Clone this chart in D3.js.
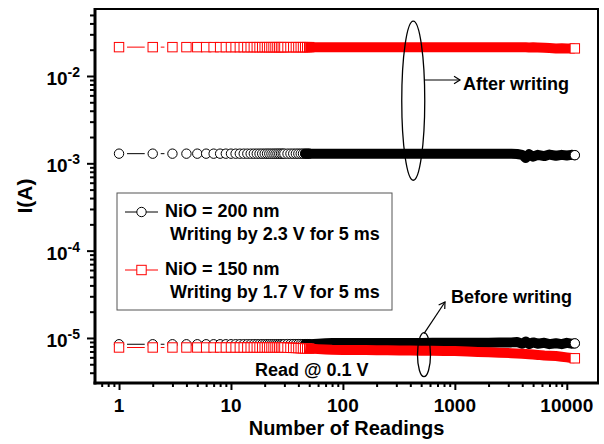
<!DOCTYPE html>
<html>
<head>
<meta charset="utf-8">
<script src="https://cdn.jsdelivr.net/npm/d3@7/dist/d3.min.js"></script>
<style>
body { margin: 0; background: #fff; }
text { font-family: "Liberation Sans", Arial, sans-serif; font-weight: bold; fill: #000; }
</style>
</head>
<body>
<div id="chart"></div>
<script>
// reading numbers (shared by all four series)
var readings = [1,2,3,4,5,6,7,8,9,10,11,12,13,14,15,16,17,18,19,20,21,22,23,24,25,26,27,28,29,30,
    32,34,36,38,40,42,44,46,48,50,
    60,70,80,100,130,160,200,250,320,400,
    500,630,800,1000,1300,1600,2000,2500,3200,3600,
    4000,4300,4600,5000,5500,6300,7000,8000,9000,10000,
    11000,11800];

// after writing, NiO = 150 nm (red squares)
var afterRed = [0.0214,0.0214,0.0214,0.0214,0.0214,0.0214,0.0214,0.0214,0.0214,0.0214,
    0.0214,0.0214,0.0214,0.0214,0.0214,0.0214,0.0214,0.0214,0.0214,0.0214,
    0.0214,0.0214,0.0214,0.0214,0.0214,0.0214,0.0214,0.0214,0.0214,0.0214,
    0.0214,0.0214,0.0214,0.0214,0.0214,0.0214,0.0214,0.0214,0.0214,0.0214,
    0.0214,0.0214,0.0214,0.0214,0.0214,0.0214,0.0214,0.0214,0.0214,0.0214,
    0.0214,0.0214,0.0214,0.0213,0.0214,0.0213,0.0213,0.0214,0.0213,0.0213,
    0.0213,0.0213,0.0212,0.0213,0.0212,0.0211,0.0209,0.0207,0.0208,0.0206,
    0.0207,0.0207];

// after writing, NiO = 200 nm (black circles)
var afterBlack = [1.29e-3,1.29e-3,1.29e-3,1.29e-3,1.29e-3,1.29e-3,1.29e-3,1.29e-3,1.29e-3,1.29e-3,
    1.29e-3,1.29e-3,1.29e-3,1.29e-3,1.29e-3,1.29e-3,1.29e-3,1.29e-3,1.29e-3,1.29e-3,
    1.29e-3,1.29e-3,1.29e-3,1.29e-3,1.29e-3,1.29e-3,1.29e-3,1.29e-3,1.29e-3,1.29e-3,
    1.29e-3,1.29e-3,1.29e-3,1.29e-3,1.29e-3,1.29e-3,1.29e-3,1.29e-3,1.29e-3,1.29e-3,
    1.29e-3,1.29e-3,1.29e-3,1.29e-3,1.29e-3,1.29e-3,1.29e-3,1.29e-3,1.29e-3,1.29e-3,
    1.29e-3,1.29e-3,1.29e-3,1.29e-3,1.29e-3,1.29e-3,1.29e-3,1.29e-3,1.29e-3,1.28e-3,
    1.25e-3,1.15e-3,1.27e-3,1.19e-3,1.25e-3,1.21e-3,1.26e-3,1.22e-3,1.25e-3,1.23e-3,
    1.25e-3,1.24e-3];

// before writing, NiO = 200 nm (black circles)
var beforeBlack = [8.47e-6,8.47e-6,8.47e-6,8.47e-6,8.47e-6,8.47e-6,8.47e-6,8.47e-6,8.47e-6,8.47e-6,
    8.47e-6,8.47e-6,8.47e-6,8.47e-6,8.47e-6,8.47e-6,8.47e-6,8.47e-6,8.47e-6,8.47e-6,
    8.47e-6,8.47e-6,8.47e-6,8.47e-6,8.47e-6,8.47e-6,8.47e-6,8.47e-6,8.47e-6,8.47e-6,
    8.5e-6,8.5e-6,8.5e-6,8.5e-6,8.5e-6,8.5e-6,8.5e-6,8.5e-6,8.5e-6,8.5e-6,
    8.6e-6,8.7e-6,8.75e-6,8.77e-6,8.77e-6,8.78e-6,8.78e-6,8.78e-6,8.78e-6,8.78e-6,
    8.78e-6,8.8e-6,8.8e-6,8.8e-6,8.8e-6,8.82e-6,8.82e-6,8.85e-6,8.9e-6,9.0e-6,
    8.6e-6,9.1e-6,8.5e-6,8.9e-6,8.6e-6,8.8e-6,8.5e-6,8.7e-6,8.5e-6,8.8e-6,
    8.6e-6,8.67e-6];

// before writing, NiO = 150 nm (red squares)
var beforeRed = [7.78e-6,7.78e-6,7.78e-6,7.78e-6,7.78e-6,7.78e-6,7.78e-6,7.78e-6,7.78e-6,7.78e-6,
    7.78e-6,7.78e-6,7.78e-6,7.78e-6,7.78e-6,7.78e-6,7.78e-6,7.78e-6,7.78e-6,7.78e-6,
    7.78e-6,7.78e-6,7.78e-6,7.78e-6,7.78e-6,7.78e-6,7.78e-6,7.78e-6,7.78e-6,7.78e-6,
    7.75e-6,7.72e-6,7.7e-6,7.68e-6,7.66e-6,7.64e-6,7.62e-6,7.6e-6,7.58e-6,7.56e-6,
    7.45e-6,7.38e-6,7.33e-6,7.3e-6,7.28e-6,7.27e-6,7.25e-6,7.22e-6,7.2e-6,7.18e-6,
    7.15e-6,7.13e-6,7.1e-6,7.08e-6,7.0e-6,6.92e-6,6.85e-6,6.78e-6,6.7e-6,6.65e-6,
    6.6e-6,6.55e-6,6.5e-6,6.45e-6,6.4e-6,6.3e-6,6.25e-6,6.2e-6,6.1e-6,6.0e-6,
    5.9e-6,5.85e-6];

var xTickValues = [1, 10, 100, 1000, 10000];
var xTickLabels = ["1", "10", "100", "1000", "10000"];
var yTickExps = [-5, -4, -3, -2];
var legendLines = [
    ["NiO = 200 nm", "Writing by 2.3 V for 5 ms"],
    ["NiO = 150 nm", "Writing by 1.7 V for 5 ms"]
];

const W = 604, H = 444;
const margin = {top: 9, right: 6, bottom: 61, left: 95};
const markerR = 4.7, squareS = 9.4, bandW = 10, denseFrom = 46, markerUntil = 50;

var svg = d3.select('#chart').append('svg')
    .attr('width', W).attr('height', H);

var x = d3.scaleLog().domain([0.61, 19000]).range([margin.left, W - margin.right]);
var y = d3.scaleLog().domain([3.05e-6, 0.0585]).range([H - margin.bottom, margin.top]);

var series = [
    {values: afterBlack, color: '#000', shape: 'circle'},
    {values: afterRed, color: '#ff0000', shape: 'square'},
    {values: beforeBlack, color: '#000', shape: 'circle'},
    {values: beforeRed, color: '#ff0000', shape: 'square'}
];

function drawMarker(g, shape, color, cx, cy){
    if(shape == 'circle'){
        g.append('circle').attr('cx', cx).attr('cy', cy).attr('r', markerR)
            .attr('fill', '#fff').attr('stroke', color).attr('stroke-width', 1);
    } else {
        g.append('rect').attr('x', cx - squareS/2).attr('y', cy - squareS/2)
            .attr('width', squareS).attr('height', squareS)
            .attr('fill', '#fff').attr('stroke', color).attr('stroke-width', 1);
    }
}

var plot = svg.append('g');

series.forEach(function(s){
    var g = plot.append('g');
    var pts = readings.map((r, i) => [x(r), y(s.values[i]), r]);
    var gap = 5 + 3;

    // connecting line, broken round each marker
    for(var i = 0; i < pts.length - 1; i++){
        if(pts[i+1][2] > markerUntil) break;
        var dx = pts[i+1][0] - pts[i][0], dy = pts[i+1][1] - pts[i][1];
        var len = Math.sqrt(dx*dx + dy*dy);
        if(len - 2*gap < 0.8) continue;
        var ux = dx/len, uy = dy/len;
        g.append('line')
            .attr('x1', pts[i][0] + ux*gap).attr('y1', pts[i][1] + uy*gap)
            .attr('x2', pts[i+1][0] - ux*gap).attr('y2', pts[i+1][1] - uy*gap)
            .attr('stroke', s.color).attr('stroke-width', 1);
    }

    pts.forEach(function(p){
        if(p[2] <= markerUntil) drawMarker(g, s.shape, s.color, p[0], p[1]);
    });

    // where the markers pile up they form a solid band
    g.append('path')
        .datum(pts.filter(p => p[2] >= denseFrom))
        .attr('d', d3.line().x(p => p[0]).y(p => p[1]))
        .attr('fill', 'none')
        .attr('stroke', s.color)
        .attr('stroke-width', bandW)
        .attr('stroke-linejoin', 'round')
        .attr('stroke-linecap', s.shape == 'circle' ? 'round' : 'butt');

    var last = pts[pts.length - 1];
    drawMarker(g, s.shape, s.color, last[0], last[1]);
});

// axes
var x0 = margin.left, x1 = W - margin.right, y0 = H - margin.bottom, y1 = margin.top;

var xMinor = [], yMinor = [];
for(var d = -1; d <= 4; d++){
    for(var m = 2; m <= 9; m++){
        var v = m*Math.pow(10, d);
        if(v >= x.domain()[0] && v <= x.domain()[1]) xMinor.push(v);
    }
}
for(var d = -6; d <= -2; d++){
    for(var m = 2; m <= 9; m++){
        var v = m*Math.pow(10, d);
        if(v >= y.domain()[0] && v <= y.domain()[1]) yMinor.push(v);
    }
}

svg.append('g').attr('transform', 'translate(0,' + y0 + ')')
    .call(d3.axisBottom(x).tickValues(xTickValues).tickSize(7).tickFormat(''))
    .call(g => g.select('.domain').remove())
    .selectAll('line').attr('stroke-width', 2);
svg.append('g').attr('transform', 'translate(0,' + y0 + ')')
    .call(d3.axisBottom(x).tickValues(xMinor).tickSize(4).tickFormat(''))
    .call(g => g.select('.domain').remove())
    .selectAll('line').attr('stroke-width', 2);

svg.append('g').attr('transform', 'translate(' + x0 + ',0)')
    .call(d3.axisLeft(y).tickValues(yTickExps.map(e => Math.pow(10, e))).tickSize(8).tickFormat(''))
    .call(g => g.select('.domain').remove())
    .selectAll('line').attr('stroke-width', 2);
svg.append('g').attr('transform', 'translate(' + x0 + ',0)')
    .call(d3.axisLeft(y).tickValues(yMinor).tickSize(5).tickFormat(''))
    .call(g => g.select('.domain').remove())
    .selectAll('line').attr('stroke-width', 2);

// frame
svg.append('rect').attr('x', x0).attr('y', y1).attr('width', x1 - x0).attr('height', y0 - y1)
    .attr('fill', 'none').attr('stroke', '#000').attr('stroke-width', 2);
svg.append('line').attr('x1', x0).attr('x2', x0).attr('y1', y1 - 1).attr('y2', y0 + 1.5)
    .attr('stroke', '#000').attr('stroke-width', 3);
svg.append('line').attr('x1', x0 - 1.5).attr('x2', x1 + 1).attr('y1', y0).attr('y2', y0)
    .attr('stroke', '#000').attr('stroke-width', 3);

// tick labels
xTickValues.forEach(function(v, i){
    svg.append('text').attr('x', x(v)).attr('y', 412)
        .attr('text-anchor', 'middle').attr('font-size', 19)
        .text(xTickLabels[i]);
});
yTickExps.forEach(function(e){
    var t = svg.append('text').attr('x', 80).attr('y', y(Math.pow(10, e)) + 9)
        .attr('text-anchor', 'end').attr('font-size', 19);
    t.append('tspan').text('10');
    t.append('tspan').attr('font-size', 14).attr('dy', -8).text(String(e));
});

svg.append('text').attr('x', (x0 + x1)/2).attr('y', 435)
    .attr('text-anchor', 'middle').attr('font-size', 20)
    .text('Number of Readings');
svg.append('text').attr('transform', 'translate(32,' + ((y0 + y1)/2) + ') rotate(-90)')
    .attr('text-anchor', 'middle').attr('font-size', 21)
    .text('I(A)');

// legend
var lg = svg.append('g');
lg.append('rect').attr('x', 117).attr('y', 193).attr('width', 275).attr('height', 117)
    .attr('fill', '#fff').attr('stroke', '#555').attr('stroke-width', 1);
[series[0], series[1]].forEach(function(s, i){
    var ly = 212 + i*58;
    lg.append('line').attr('x1', 125).attr('x2', 158).attr('y1', ly).attr('y2', ly)
        .attr('stroke', s.color).attr('stroke-width', 1);
    drawMarker(lg, s.shape, s.color, 141.5, ly);
    lg.append('text').attr('x', 165).attr('y', ly + 5).attr('font-size', 18).text(legendLines[i][0]);
    lg.append('text').attr('x', 170).attr('y', ly + 28).attr('font-size', 18).text(legendLines[i][1]);
});

// annotations
function arrow(xa, ya, xb, yb){
    var ang = Math.atan2(yb - ya, xb - xa), h = 7, w = 0.55;
    svg.append('line').attr('x1', xa).attr('y1', ya).attr('x2', xb).attr('y2', yb)
        .attr('stroke', '#000').attr('stroke-width', 1.2);
    svg.append('path')
        .attr('d', 'M' + (xb - h*Math.cos(ang - w)) + ',' + (yb - h*Math.sin(ang - w)) +
              'L' + xb + ',' + yb +
              'L' + (xb - h*Math.cos(ang + w)) + ',' + (yb - h*Math.sin(ang + w)))
        .attr('fill', 'none').attr('stroke', '#000').attr('stroke-width', 1.2);
}

var eA = {cx: x(425), top: y(0.0426), bottom: y(6.4e-4), rx: 11.5};
svg.append('ellipse').attr('cx', eA.cx).attr('cy', (eA.top + eA.bottom)/2)
    .attr('rx', eA.rx).attr('ry', (eA.bottom - eA.top)/2)
    .attr('fill', 'none').attr('stroke', '#000').attr('stroke-width', 1.3);
arrow(eA.cx + eA.rx, 80, 460, 80);
svg.append('text').attr('x', 463).attr('y', 90).attr('font-size', 18).text('After writing');

var eB = {cx: x(530), top: y(1.15e-5), bottom: y(3.6e-6), rx: 6.5};
svg.append('ellipse').attr('cx', eB.cx).attr('cy', (eB.top + eB.bottom)/2)
    .attr('rx', eB.rx).attr('ry', (eB.bottom - eB.top)/2)
    .attr('fill', 'none').attr('stroke', '#000').attr('stroke-width', 1.3);
arrow(eB.cx, eB.top + 1, 445, 302);
svg.append('text').attr('x', 451).attr('y', 303).attr('font-size', 18).text('Before writing');

svg.append('text').attr('x', 255).attr('y', 376).attr('font-size', 18).text('Read @ 0.1 V');
</script>
</body>
</html>
